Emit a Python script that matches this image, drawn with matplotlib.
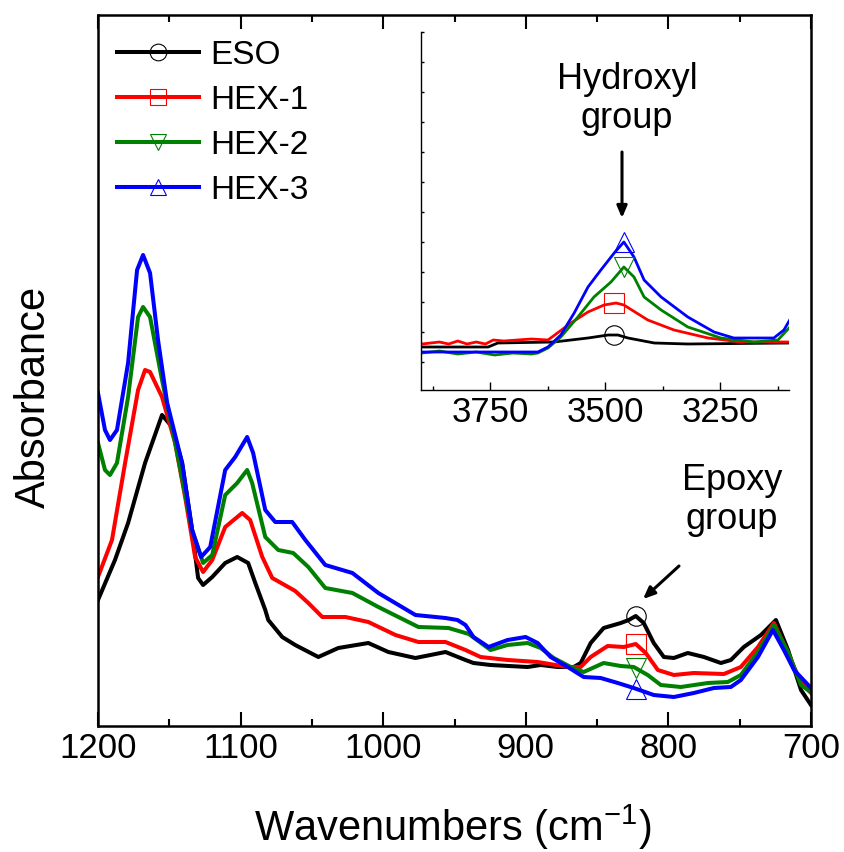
import numpy as np
import matplotlib
matplotlib.use("Agg")
import matplotlib.pyplot as plt
from matplotlib.lines import Line2D
from matplotlib.ticker import MultipleLocator, NullLocator

plt.rcParams['font.family'] = ['Liberation Sans', 'DejaVu Sans']
plt.rcParams['mathtext.fontset'] = 'custom'
plt.rcParams['mathtext.rm'] = 'Liberation Sans'
plt.rcParams['mathtext.default'] = 'regular'

# ---------------- FTIR spectra, fingerprint region (arbitrary absorbance units) ----------------
eso_wn = [1200, 1188.1, 1178.9, 1167.0, 1155.1, 1148.0, 1141.0, 1134.0, 1129.8, 1126.3, 1119.9,
          1110.8, 1102.4, 1094.7, 1089.7, 1082.7, 1080.6, 1070.8, 1061.7, 1045.5, 1031.5, 1010.4,
          996.4, 977.4, 956.3, 942.3, 936.7, 924.7, 898.7, 889.6, 877.7, 866.4, 861.5, 854.5,
          845.4, 833.4, 827.8, 822.9, 817.3, 810.3, 803.2, 796.2, 786.4, 775.1, 763.2, 756.2,
          747.1, 735.1, 724.6, 716.1, 707.0, 700]
eso_abs = [0.126, 0.166, 0.203, 0.263, 0.311, 0.299, 0.263, 0.196, 0.148, 0.141, 0.149,
           0.163, 0.169, 0.163, 0.143, 0.116, 0.106, 0.089, 0.081, 0.069, 0.078, 0.083,
           0.074, 0.068, 0.074, 0.066, 0.063, 0.061, 0.059, 0.061, 0.059, 0.059, 0.063, 0.083,
           0.098, 0.103, 0.106, 0.110, 0.103, 0.083, 0.069, 0.068, 0.073, 0.069, 0.063, 0.066,
           0.079, 0.091, 0.106, 0.076, 0.036, 0.021]

hex1_wn = [1200, 1190.2, 1181.0, 1171.9, 1167.0, 1163.5, 1155.1, 1145.9, 1138.9, 1131.9, 1126.3,
           1119.9, 1110.8, 1098.9, 1093.3, 1084.8, 1077.8, 1066.6, 1061.7, 1052.5, 1042.7, 1026.5,
           1010.4, 991.4, 975.3, 956.3, 942.3, 931.7, 912.8, 891.7, 870.6, 861.5, 854.5, 842.6,
           831.3, 822.9, 815.9, 807.4, 796.2, 782.2, 761.1, 749.2, 737.2, 726.0, 716.1, 707.0, 700]
hex1_abs = [0.149, 0.186, 0.263, 0.336, 0.356, 0.354, 0.329, 0.283, 0.229, 0.169, 0.154,
            0.166, 0.199, 0.213, 0.206, 0.169, 0.148, 0.139, 0.135, 0.123, 0.109, 0.109,
            0.104, 0.091, 0.084, 0.084, 0.076, 0.069, 0.066, 0.064, 0.059, 0.059, 0.069, 0.080,
            0.079, 0.082, 0.073, 0.056, 0.051, 0.053, 0.052, 0.059, 0.079, 0.103, 0.073, 0.043, 0.033]

hex2_wn = [1200, 1195.1, 1191.6, 1186.7, 1178.9, 1171.9, 1168.4, 1163.5, 1155.1, 1145.9, 1134.0,
           1126.3, 1119.9, 1110.8, 1102.4, 1095.4, 1091.9, 1082.7, 1073.6, 1063.1, 1052.5, 1040.6,
           1021.6, 1003.4, 975.3, 954.2, 940.0, 924.7, 912.8, 898.7, 889.6, 880.5, 868.5, 859.4,
           845.4, 833.4, 824.3, 814.5, 805.3, 791.3, 772.3, 758.3, 749.2, 737.2, 726.0, 716.1,
           707.0, 700]
hex2_abs = [0.283, 0.256, 0.251, 0.263, 0.329, 0.409, 0.419, 0.409, 0.346, 0.283, 0.196,
            0.163, 0.171, 0.231, 0.243, 0.256, 0.243, 0.189, 0.176, 0.173, 0.159, 0.138,
            0.133, 0.119, 0.099, 0.098, 0.092, 0.076, 0.081, 0.083, 0.078, 0.068, 0.059, 0.054,
            0.063, 0.060, 0.059, 0.051, 0.041, 0.039, 0.043, 0.044, 0.051, 0.074, 0.101, 0.074,
            0.041, 0.034]

hex3_wn = [1200, 1195.1, 1191.6, 1186.7, 1178.9, 1172.6, 1168.4, 1163.5, 1157.9, 1151.5, 1141.0,
           1134.0, 1127.7, 1121.3, 1110.8, 1103.8, 1095.4, 1091.2, 1082.7, 1075.7, 1063.8, 1054.6,
           1040.6, 1021.6, 1003.4, 977.4, 956.3, 947.9, 942.3, 936.7, 926.1, 912.8, 900.1, 891.7,
           882.6, 870.6, 859.4, 847.5, 835.5, 824.3, 810.3, 796.2, 782.2, 768.1, 756.2, 749.2,
           737.2, 726.7, 719.0, 711.9, 700]
hex3_abs = [0.333, 0.296, 0.286, 0.296, 0.363, 0.456, 0.471, 0.453, 0.386, 0.323, 0.263,
            0.196, 0.169, 0.179, 0.256, 0.269, 0.289, 0.273, 0.216, 0.204, 0.204, 0.186,
            0.161, 0.153, 0.133, 0.111, 0.108, 0.106, 0.101, 0.089, 0.079, 0.086, 0.089, 0.083,
            0.069, 0.059, 0.049, 0.048, 0.043, 0.038, 0.031, 0.029, 0.033, 0.038, 0.039, 0.046,
            0.069, 0.096, 0.076, 0.056, 0.038]

# ---------------- FTIR spectra, O-H stretching region (inset) ----------------
eso_oh_wn = [3898, 3754, 3733, 3611, 3537, 3493, 3472, 3450, 3393, 3320, 3098]
eso_oh_abs = [0.043, 0.043, 0.047, 0.048, 0.052, 0.055, 0.055, 0.052, 0.047, 0.046, 0.047]

hex1_oh_wn = [3898, 3860, 3840, 3820, 3800, 3780, 3760, 3743, 3720, 3690, 3660, 3624, 3574,
              3537, 3502, 3476, 3459, 3407, 3350, 3276, 3204, 3098]
hex1_oh_abs = [0.046, 0.048, 0.046, 0.049, 0.046, 0.048, 0.046, 0.050, 0.049, 0.050, 0.051,
               0.050, 0.067, 0.078, 0.085, 0.087, 0.085, 0.070, 0.060, 0.052, 0.048, 0.048]

hex2_oh_wn = [3898, 3860, 3820, 3780, 3740, 3700, 3660, 3646, 3624, 3596, 3559, 3524, 3487,
              3459, 3437, 3415, 3378, 3320, 3248, 3176, 3124, 3098]
hex2_oh_abs = [0.037, 0.039, 0.036, 0.038, 0.035, 0.037, 0.036, 0.037, 0.042, 0.053, 0.073,
               0.093, 0.108, 0.123, 0.113, 0.093, 0.080, 0.063, 0.052, 0.048, 0.050, 0.063]

hex3_oh_wn = [3898, 3646, 3624, 3596, 3567, 3537, 3509, 3480, 3459, 3437, 3415, 3378, 3320,
              3263, 3220, 3133, 3111, 3096]
hex3_oh_abs = [0.038, 0.038, 0.043, 0.055, 0.077, 0.103, 0.120, 0.137, 0.148, 0.133, 0.110,
               0.093, 0.073, 0.058, 0.052, 0.052, 0.060, 0.072]

labels = ["ESO", "HEX-1", "HEX-2", "HEX-3"]
colors = ["#000000", "#ff0000", "#008000", "#0000ff"]
markers = ["o", "s", "v", "^"]

# band positions carrying a marker
epoxy_band = 822.9
hydroxyl_band = [3480, 3480, 3459, 3459]

main_series = [(eso_wn, eso_abs), (hex1_wn, hex1_abs), (hex2_wn, hex2_abs), (hex3_wn, hex3_abs)]
inset_series = [(eso_oh_wn, eso_oh_abs), (hex1_oh_wn, hex1_oh_abs),
                (hex2_oh_wn, hex2_oh_abs), (hex3_oh_wn, hex3_oh_abs)]

W, H = 844, 852
fig = plt.figure(figsize=(W / 100, H / 100), dpi=100)
fig.patch.set_facecolor("white")

ax = fig.add_axes([98 / W, 1 - 726 / H, 713 / W, 711 / H])
for (wn, ab), c in zip(main_series, colors):
    ax.plot(wn, ab, color=c, lw=2.9, solid_joinstyle="round", zorder=2)
for (wn, ab), c, m in zip(main_series, colors, markers):
    yv = np.interp(epoxy_band, wn[::-1], ab[::-1])
    ax.plot([epoxy_band], [yv], ls="none", marker=m, ms=14, mfc="none", mec=c, mew=0.8, zorder=3)

ax.set_xlim(1200, 700)
ax.set_ylim(0, 0.711)
ax.xaxis.set_major_locator(MultipleLocator(100))
ax.xaxis.set_minor_locator(MultipleLocator(50))
ax.yaxis.set_major_locator(NullLocator())
ax.tick_params(axis="x", which="major", direction="in", length=10, width=1.5,
               labelsize=25, pad=4, top=True)
ax.tick_params(axis="x", which="minor", direction="in", length=5, width=1.5, top=True)
for s in ax.spines.values():
    s.set_linewidth(1.8)
ax.set_xlabel("Wavenumbers (cm$^{-1}$)", fontsize=30)
ax.xaxis.set_label_coords(0.497, -0.108)
ax.set_ylabel("Absorbance", fontsize=30)
ax.yaxis.set_label_coords(-0.062, 0.463)

# legend
handles = [Line2D([], [], color=c, lw=2.9, marker=m, ms=12, mfc="none", mec=c, mew=0.8)
           for c, m in zip(colors, markers)]
fig.legend(handles, labels, loc="upper left", bbox_to_anchor=(117 / W, 1 - 40 / H),
           frameon=False, fontsize=24, handlelength=2.45, handletextpad=0.35,
           labelspacing=0.42, borderpad=0, borderaxespad=0, numpoints=1)

# inset: O-H stretching region
axi = fig.add_axes([421 / W, 1 - 390 / H, 368 / W, 358 / H])
axi.patch.set_alpha(0)
for (wn, ab), c in zip(inset_series, colors):
    axi.plot(wn, ab, color=c, lw=2.0, zorder=2)
for (wn, ab), c, m, band in zip(inset_series, colors, markers, hydroxyl_band):
    yv = np.interp(band, wn[::-1], ab[::-1])
    axi.plot([band], [yv], ls="none", marker=m, ms=14, mfc="none", mec=c, mew=0.8, zorder=3)
axi.set_xlim(3900, 3100)
axi.set_ylim(0, 0.358)
axi.xaxis.set_major_locator(MultipleLocator(250))
axi.xaxis.set_minor_locator(MultipleLocator(125))
axi.set_yticks(np.arange(0.028, 0.36, 0.03))
axi.set_yticklabels([])
axi.spines["top"].set_visible(False)
axi.spines["right"].set_visible(False)
for s in ("left", "bottom"):
    axi.spines[s].set_linewidth(1.0)
axi.tick_params(axis="x", which="major", direction="in", length=6, width=1, labelsize=25, pad=4)
axi.tick_params(axis="x", which="minor", direction="in", length=3, width=1)
axi.tick_params(axis="y", which="major", direction="in", length=2, width=1)

# annotations
arrow = dict(arrowstyle="-|>,head_length=0.7,head_width=0.3", color="black", lw=2.2,
             shrinkA=0, shrinkB=0)
fig.text(732 / W, 1 - 463 / H, "Epoxy\ngroup", fontsize=26, ha="center", va="top",
         linespacing=1.15)
ax.annotate("", xy=(643, H - 599), xycoords="figure pixels",
            xytext=(679, H - 566), textcoords="figure pixels", arrowprops=arrow)
fig.text(627 / W, 1 - 62 / H, "Hydroxyl\ngroup", fontsize=26, ha="center", va="top",
         linespacing=1.15)
ax.annotate("", xy=(622, H - 218), xycoords="figure pixels",
            xytext=(622, H - 152), textcoords="figure pixels", arrowprops=arrow)

fig.savefig("out.png", dpi=100)
